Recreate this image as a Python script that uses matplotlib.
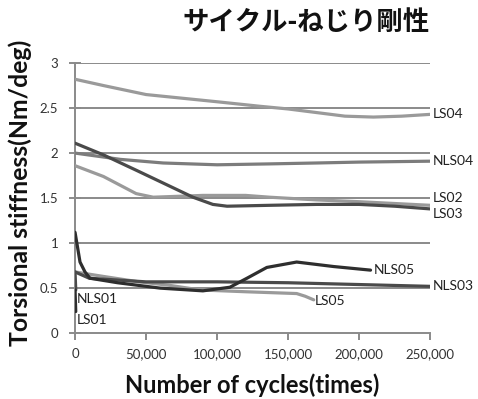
import matplotlib
matplotlib.use("Agg")
import matplotlib.pyplot as plt

# ---- data ----
LS04_x = [0, 20000, 50000, 75000, 100000, 130000, 150000, 170000, 190000, 210000, 230000, 250000]
LS04_y = [2.82, 2.75, 2.65, 2.61, 2.57, 2.52, 2.49, 2.45, 2.41, 2.40, 2.41, 2.43]

NLS04_x = [0, 32000, 62000, 100000, 137000, 170000, 200000, 250000]
NLS04_y = [2.00, 1.93, 1.89, 1.87, 1.88, 1.89, 1.90, 1.91]

LS03_x = [0, 20000, 43000, 67000, 83000, 97000, 107000, 137000, 170000, 200000, 225000, 250000]
LS03_y = [2.11, 1.98, 1.81, 1.63, 1.51, 1.43, 1.41, 1.42, 1.43, 1.43, 1.41, 1.38]

LS02_x = [0, 20000, 43000, 55000, 90000, 120000, 137000, 170000, 200000, 225000, 250000]
LS02_y = [1.86, 1.74, 1.55, 1.51, 1.53, 1.53, 1.51, 1.48, 1.46, 1.44, 1.42]

NLS05_x = [0, 3500, 7000, 10500, 30000, 60000, 90000, 109000, 121000, 135000, 156000, 182000, 208000]
NLS05_y = [1.12, 0.79, 0.68, 0.61, 0.56, 0.50, 0.47, 0.51, 0.61, 0.73, 0.79, 0.74, 0.70]

NLS03_x = [0, 10000, 50000, 100000, 150000, 200000, 250000]
NLS03_y = [0.68, 0.61, 0.57, 0.57, 0.56, 0.54, 0.52]

LS05_x = [0, 20000, 45000, 67000, 88000, 120000, 156000, 162000, 168000]
LS05_y = [0.68, 0.63, 0.57, 0.53, 0.48, 0.46, 0.44, 0.41, 0.37]

NLS01_x = [0, 500]
NLS01_y = [0.68, 0.48]

LS01_x = [0, 500]
LS01_y = [0.48, 0.24]

xticks = [0, 50000, 100000, 150000, 200000, 250000]
xtick_labels = ["0", "50,000", "100,000", "150,000", "200,000", "250,000"]
yticks = [0, 0.5, 1, 1.5, 2, 2.5, 3]
ytick_labels = ["0", "0.5", "1", "1.5", "2", "2.5", "3"]

# ---- figure ----
fig = plt.figure(figsize=(4.78, 3.99), dpi=100)
ax = fig.add_axes([0.157, 0.165, 0.743, 0.677])

grid_c = "#8a8a8a"
for y in yticks[1:]:
    ax.axhline(y, color=grid_c, lw=1.4, zorder=1)

light = "#9a9a9a"
mid = "#7c7c7c"
dark = "#4a4a4a"
darker = "#2e2e2e"

kw = dict(lw=2.3, solid_joinstyle="round", solid_capstyle="round")
ax.plot(LS04_x, LS04_y, color=light, zorder=3, **kw)
ax.plot(NLS04_x, NLS04_y, color=mid, zorder=3, **kw)
ax.plot(LS02_x, LS02_y, color=light, zorder=3, **kw)
ax.plot(LS03_x, LS03_y, color=dark, zorder=3, **kw)
ax.plot(LS05_x, LS05_y, color=light, zorder=3, **kw)
ax.plot(NLS03_x, NLS03_y, color=dark, zorder=3, **kw)
ax.plot(NLS05_x, NLS05_y, color=darker, zorder=4, **kw)
ax.plot(NLS01_x, NLS01_y, color=dark, zorder=4, **kw)
ax.plot(LS01_x, LS01_y, color=darker, zorder=4, **kw)

lab_font = dict(family="Lato", fontsize=10, color="#222222")
ax.text(252000, 2.43, "LS04", va="center", ha="left", **lab_font)
ax.text(252000, 1.91, "NLS04", va="center", ha="left", **lab_font)
ax.text(252000, 1.50, "LS02", va="center", ha="left", **lab_font)
ax.text(252000, 1.32, "LS03", va="center", ha="left", **lab_font)
ax.text(252000, 0.52, "NLS03", va="center", ha="left", **lab_font)
ax.text(210000, 0.70, "NLS05", va="center", ha="left", **lab_font)
ax.text(169000, 0.36, "LS05", va="center", ha="left", **lab_font)
ax.text(1000, 0.38, "NLS01", va="center", ha="left", **lab_font)
ax.text(1000, 0.15, "LS01", va="center", ha="left", **lab_font)

ax.set_xlim(0, 250000)
ax.set_ylim(0, 3)
ax.set_xticks(xticks)
ax.set_xticklabels(xtick_labels)
ax.set_yticks(yticks)
ax.set_yticklabels(ytick_labels)

for s in ["top", "right"]:
    ax.spines[s].set_visible(False)
for s in ["left", "bottom"]:
    ax.spines[s].set_color(grid_c)
    ax.spines[s].set_linewidth(1.4)

ax.tick_params(axis="x", direction="out", length=5, width=1.4, color=grid_c,
               labelsize=9.5, labelcolor="#333333", pad=6)
ax.tick_params(axis="y", direction="inout", length=8, width=1.4, color=grid_c,
               labelsize=9.5, labelcolor="#333333", pad=8)
for lbl in ax.get_xticklabels() + ax.get_yticklabels():
    lbl.set_family("Lato")

ax.set_xlabel("Number of cycles(times)", family="Lato", fontweight="bold",
              fontsize=17, color="#111111")
ax.xaxis.set_label_coords(0.5, -0.15)
ax.set_ylabel("Torsional stiffness(Nm/deg)", family="Lato", fontweight="bold",
              fontsize=17.8, color="#111111")
ax.yaxis.set_label_coords(-0.122, 0.52)

fig.text(0.641, 0.943, "サイクル-ねじり剛性", family=["Noto Sans CJK JP", "DejaVu Sans"],
         fontweight="bold", fontsize=19, ha="center", va="center", color="#111111")

fig.savefig("out.png", dpi=100)
